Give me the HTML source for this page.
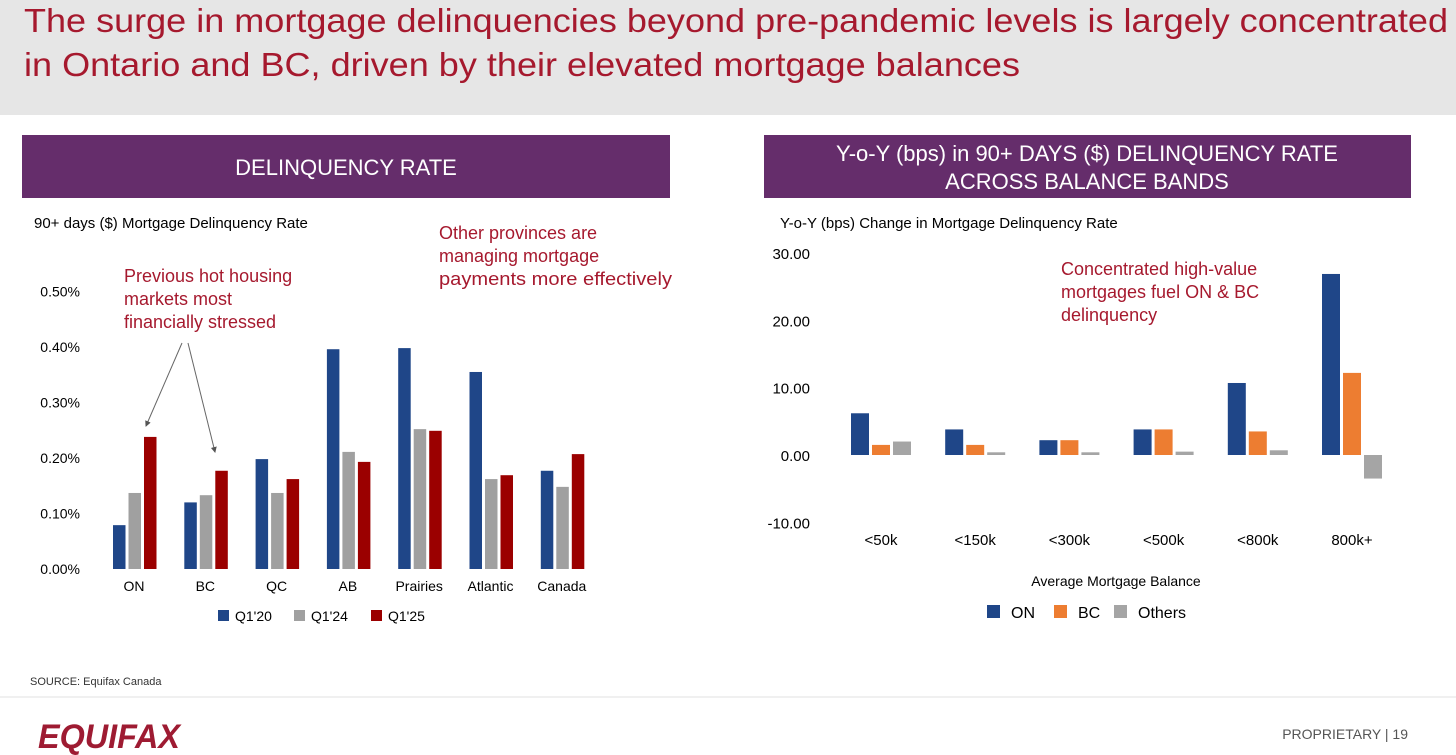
<!DOCTYPE html>
<html><head><meta charset="utf-8"><style>
body{margin:0;background:#fff;}
svg{display:block;font-family:"Liberation Sans",sans-serif;}
</style></head><body>
<svg id="s" width="1456" height="755" viewBox="0 0 1456 755" xmlns="http://www.w3.org/2000/svg">
<rect x="0" y="0" width="1456" height="115" fill="#e6e6e6"/>
<text x="24" y="32" font-size="33" fill="#a6192e" textLength="1424" lengthAdjust="spacingAndGlyphs">The surge in mortgage delinquencies beyond pre-pandemic levels is largely concentrated</text>
<text x="24" y="76" font-size="33" fill="#a6192e" textLength="996" lengthAdjust="spacingAndGlyphs">in Ontario and BC, driven by their elevated mortgage balances</text>

<rect x="22" y="135" width="648" height="63" fill="#652d6b"/>
<text x="346" y="175" font-size="22" fill="#fff" text-anchor="middle">DELINQUENCY RATE</text>
<rect x="764" y="135" width="647" height="63" fill="#652d6b"/>
<text x="1087" y="161" font-size="22" fill="#fff" text-anchor="middle">Y-o-Y (bps) in 90+ DAYS ($) DELINQUENCY RATE</text>
<text x="1087" y="189" font-size="22" fill="#fff" text-anchor="middle">ACROSS BALANCE BANDS</text>

<text x="34" y="228" font-size="15" fill="#000">90+ days ($) Mortgage Delinquency Rate</text>
<text x="780" y="228" font-size="15" fill="#000">Y-o-Y (bps) Change in Mortgage Delinquency Rate</text>

<g font-size="18" fill="#a6192e">
<text x="124" y="282">Previous hot housing</text><text x="124" y="305">markets most</text><text x="124" y="328">financially stressed</text></g>
<g font-size="18" fill="#a6192e">
<text x="439" y="239">Other provinces are</text><text x="439" y="262">managing mortgage</text><text x="439" y="285" textLength="233" lengthAdjust="spacingAndGlyphs">payments more effectively</text></g>
<g font-size="18" fill="#a6192e">
<text x="1061" y="275">Concentrated high-value</text><text x="1061" y="298">mortgages fuel ON &amp; BC</text><text x="1061" y="321">delinquency</text></g>
<defs><marker id="ah" markerWidth="6" markerHeight="6" refX="5" refY="3" orient="auto"><path d="M0,0L6,3L0,6z" fill="#555"/></marker></defs>
<line x1="182" y1="343" x2="146" y2="426" stroke="#666" stroke-width="1" marker-end="url(#ah)"/>
<line x1="188" y1="343" x2="215" y2="452" stroke="#666" stroke-width="1" marker-end="url(#ah)"/>

<g id="left"></g>
<g id="right"></g>

<text x="30" y="685" font-size="11" fill="#333">SOURCE: Equifax Canada</text>
<line x1="0" y1="697" x2="1456" y2="697" stroke="#e2e2e2" stroke-width="1"/>
<text x="38" y="748" font-size="34" font-weight="bold" font-style="italic" fill="#9e1b32" textLength="142" lengthAdjust="spacingAndGlyphs">EQUIFAX</text>
<text x="1408" y="739" font-size="14" fill="#555" text-anchor="end">PROPRIETARY  |  19</text>
</svg>
<script>
// Left chart data
const provinces = ["ON","BC","QC","AB","Prairies","Atlantic","Canada"];
const q120 = [0.079,0.12,0.198,0.396,0.398,0.355,0.177];
const q124 = [0.137,0.133,0.137,0.211,0.252,0.162,0.148];
const q125 = [0.238,0.177,0.162,0.193,0.249,0.169,0.207];
const leftTicks = [0,0.1,0.2,0.3,0.4,0.5];
const leftSeriesNames = ["Q1'20","Q1'24","Q1'25"];
// Right chart data
const bands = ["<50k","<150k","<300k","<500k","<800k","800k+"];
const onVals = [6.2,3.8,2.2,3.8,10.7,26.9];
const bcVals = [1.5,1.5,2.2,3.8,3.5,12.2];
const otherVals = [2.0,0.4,0.4,0.5,0.7,-3.5];
const rightTicks = [-10,0,10,20,30];
const rightSeriesNames = ["ON","BC","Others"];

const NS="http://www.w3.org/2000/svg";
function mk(tag,attrs,parent,txt){const e=document.createElementNS(NS,tag);for(const k in attrs)e.setAttribute(k,attrs[k]);if(txt!==undefined)e.textContent=txt;parent.appendChild(e);return e;}

// Left
const L=document.getElementById('left');
const ly=v=>569-v*555;
const lx=i=>134+i*71.3;
leftTicks.forEach(t=>{const e=mk('text',{x:80,y:ly(t)+5,'font-size':14,'text-anchor':'end',fill:'#000'},L,t.toFixed(2)+'%');

});
const lcol=["#1f4688","#a0a0a0","#9b0000"];
[q120,q124,q125].forEach((ser,s)=>{ser.forEach((v,i)=>{
const x=lx(i)-21+s*15.5;
const r=mk('rect',{x:x,y:ly(v),width:12.5,height:569-ly(v),fill:lcol[s]},L);

});});
provinces.forEach((p,i)=>{const e=mk('text',{x:lx(i),y:591,'font-size':14,'text-anchor':'middle',fill:'#000'},L,p);

});
const lLegX=[218,294,371];
leftSeriesNames.forEach((n,s)=>{const g=mk('g',{},L);


mk('rect',{x:lLegX[s],y:610,width:11,height:11,fill:lcol[s]},g);mk('text',{x:lLegX[s]+17,y:621,'font-size':14,fill:'#000'},g,n);});

// Right
const R=document.getElementById('right');
const ry=v=>455-v*6.73;
const rx=i=>881+i*94.2;
rightTicks.forEach(t=>{const e=mk('text',{x:810,y:ry(t)+6,'font-size':15,'text-anchor':'end',fill:'#000'},R,t.toFixed(2));

});
const rcol=["#1f4688","#ed7d31","#a5a5a5"];
[onVals,bcVals,otherVals].forEach((ser,s)=>{ser.forEach((v,i)=>{
const x=rx(i)-30+s*21;const y0=ry(Math.max(v,0)),y1=ry(Math.min(v,0));
const r=mk('rect',{x:x,y:y0,width:18,height:Math.max(y1-y0,0.5),fill:rcol[s]},R);

});});
bands.forEach((b,i)=>{const e=mk('text',{x:rx(i),y:545,'font-size':15,'text-anchor':'middle',fill:'#000'},R,b);

});
const at=mk('text',{x:1116,y:586,'font-size':14,'text-anchor':'middle',fill:'#000'},R,'Average Mortgage Balance');


const rLegX=[987,1054,1114];
rightSeriesNames.forEach((n,s)=>{const g=mk('g',{},R);


mk('rect',{x:rLegX[s],y:605,width:13,height:13,fill:rcol[s]},g);mk('text',{x:rLegX[s]+24,y:618,'font-size':16,fill:'#000'},g,n);});
</script>
</body></html>
